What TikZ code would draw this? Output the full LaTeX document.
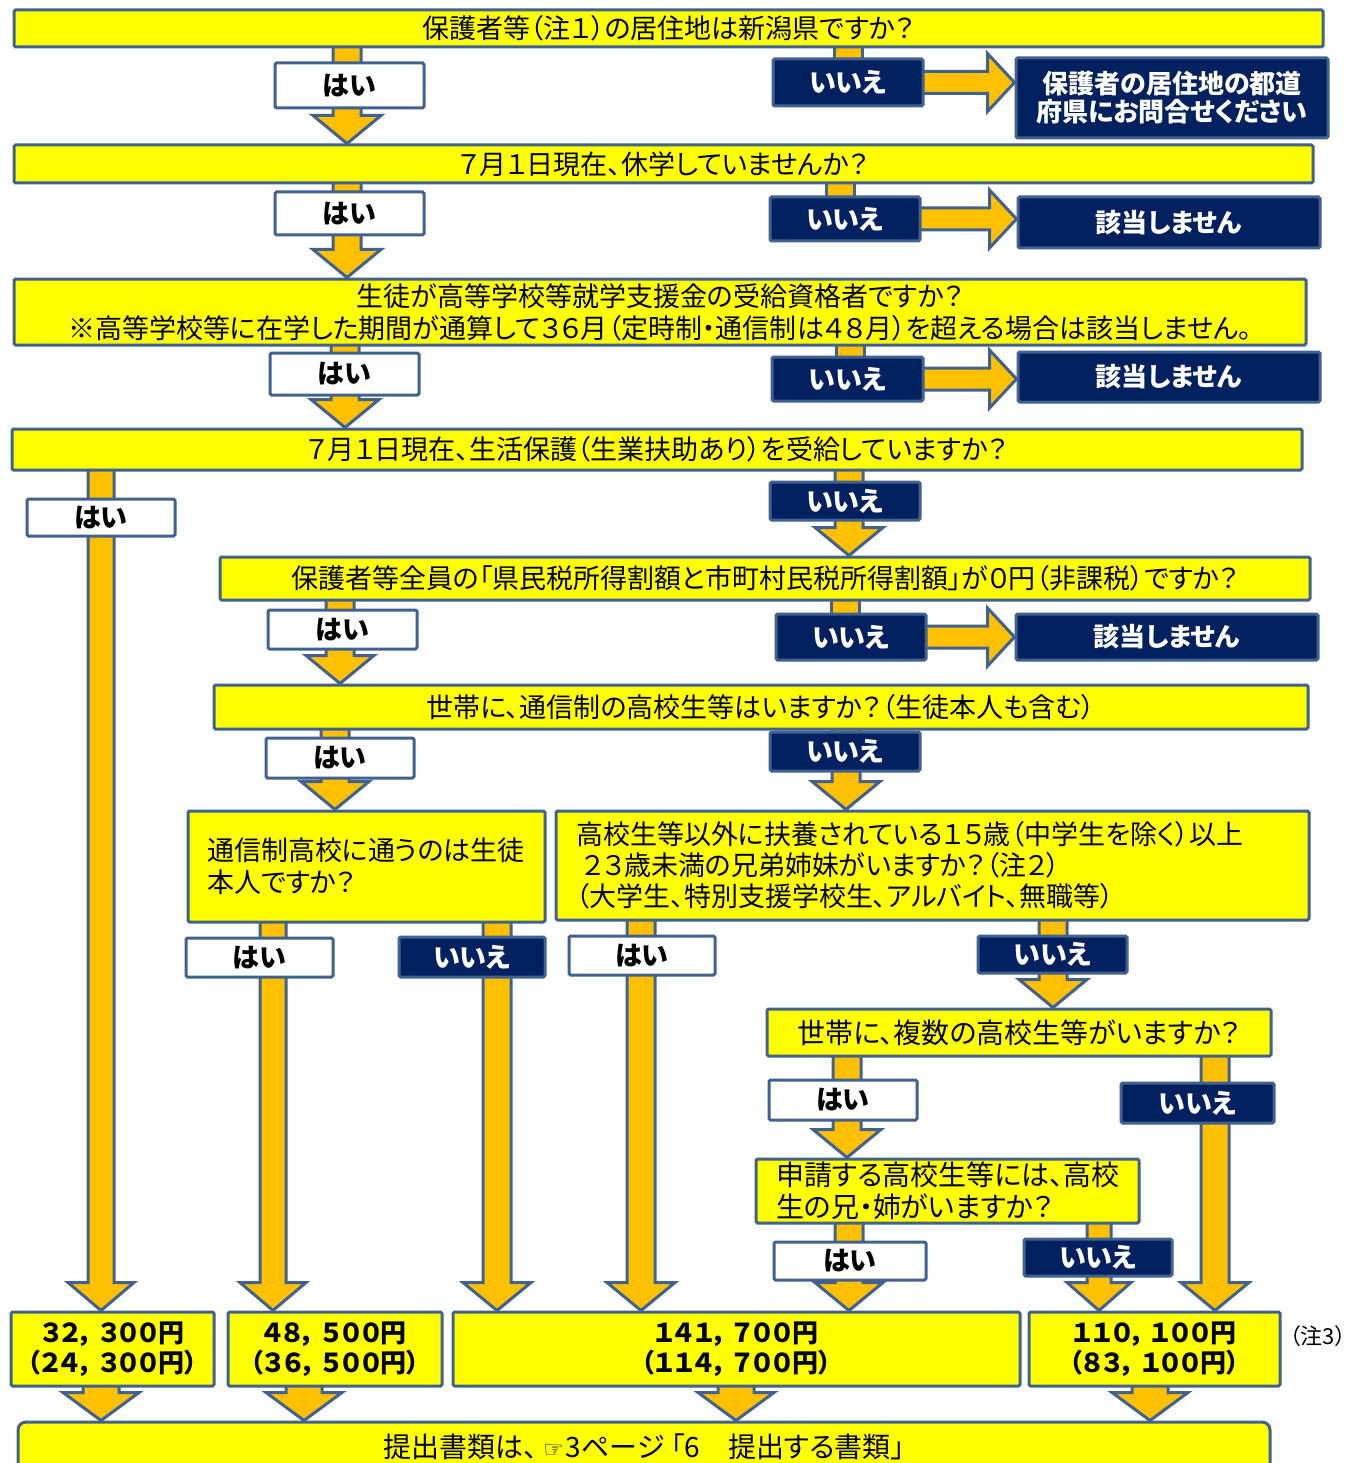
\documentclass[tikz,border=0pt]{standalone}
\usepackage{fontspec}
\setmainfont{Noto Sans CJK JP}[RawFeature=+palt]
\newfontfamily\djv{DejaVu Sans}
\usetikzlibrary{calc}
\definecolor{yel}{RGB}{255,255,0}
\definecolor{amb}{RGB}{255,192,0}
\definecolor{bd}{RGB}{65,98,143}
\definecolor{nvy}{RGB}{0,32,96}
\pgfdeclarelayer{bg}\pgfsetlayers{bg,main}
\tikzset{
 base/.style={draw=bd, line width=3pt, rounded corners=1.5pt, inner sep=0pt},
 qbox/.style={base, fill=yel, font=\fontsize{27}{32}\selectfont, align=center},
 lbox/.style={qbox, align=left},
 yesbox/.style={base, fill=white, text=black, font=\bfseries\fontsize{27}{30}\selectfont},
 nobox/.style={base, fill=nvy, text=white, font=\bfseries\fontsize{27}{30}\selectfont},
 tbox/.style={nobox, align=center, font=\bfseries\fontsize{26}{28}\selectfont},
 abox/.style={base, fill=yel, font=\bfseries\fontsize{26}{30}\selectfont, align=center},
 arrsty/.style={fill=amb, draw=bd, line width=3pt, line join=miter},
}
\newcommand\cm{，\hspace{6pt}}
\newcommand\bx[7]{\node[#1, minimum width={#4-#2}, minimum height={#5-#3}] (#6) at ({(#2+#4)/2},{(#3+#5)/2}) {#7};}
\newcommand\darr[3][14]{\filldraw[arrsty] let \p1=#2, \p2=#3 in
  (\x1-#1pt,\y1+3pt) -- (\x1-#1pt,\y2+28pt) -- (\x1-#1pt-20pt,\y2+28pt) -- (\x1,\y2)
  -- (\x1+#1pt+20pt,\y2+28pt) -- (\x1+#1pt,\y2+28pt) -- (\x1+#1pt,\y1+3pt) -- cycle;}
\newcommand\stm[2]{\filldraw[arrsty] let \p1=#1, \p2=#2 in (\x1-14pt,\y1+3pt) rectangle (\x1+14pt,\y2-3pt);}
\newcommand\rarr[2]{\filldraw[arrsty] let \p1=#1, \p2=#2 in
  (\x1-3pt,\y1+11pt) -- (\x2-27pt,\y1+11pt) -- (\x2-27pt,\y1+29pt) -- (\x2,\y1)
  -- (\x2-27pt,\y1-29pt) -- (\x2-27pt,\y1-11pt) -- (\x1-3pt,\y1-11pt) -- cycle;}
\begin{document}
\begin{tikzpicture}[x=1pt,y=-1pt]
\useasboundingbox (0,0) rectangle (1356,1463);
% row 1
\bx{qbox}{14}{10}{1323}{47}{q1}{保護者等（注１）の居住地は新潟県ですか？}
\bx{yesbox}{275}{63}{424}{108}{y1}{はい}
\bx{nobox}{773}{59}{923}{106}{n1}{いいえ}
\bx{tbox}{1016}{58}{1328}{138}{t1}{保護者の居住地の都道\\府県にお問合せください}
% row 2
\bx{qbox}{14}{145}{1313}{183}{q2}{７月１日現在、休学していませんか？}
\bx{yesbox}{275}{192}{424}{235}{y2}{はい}
\bx{nobox}{770}{197}{920}{241}{n2}{いいえ}
\bx{tbox}{1018}{197}{1320}{248}{t2}{該当しません}
% row 3
\bx{qbox}{14}{279}{1306}{345}{q3}{生徒が高等学校等就学支援金の受給資格者ですか？\\※高等学校等に在学した期間が通算して３６月（定時制・通信制は４８月）を超える場合は該当しません。}
\bx{yesbox}{270}{353}{419}{395}{y3}{はい}
\bx{nobox}{772}{357}{923}{401}{n3}{いいえ}
\bx{tbox}{1018}{352}{1320}{402}{t3}{該当しません}
% row 4
\bx{qbox}{12}{429}{1302}{470}{q4}{７月１日現在、生活保護（生業扶助あり）を受給していますか？}
\bx{yesbox}{27}{499}{175}{536}{y4}{はい}
\bx{nobox}{770}{482}{920}{520}{n4}{いいえ}
% row 5
\bx{qbox}{220}{557}{1310}{600}{q5}{保護者等全員の「県民税所得割額と市町村民税所得割額」が０円（非課税）ですか？}
\bx{yesbox}{268}{610}{417}{649}{y5}{はい}
\bx{nobox}{776}{614}{926}{660}{n5}{いいえ}
\bx{tbox}{1016}{614}{1318}{660}{t4}{該当しません}
% row 6
\bx{qbox}{214}{685}{1308}{729}{q6}{世帯に、通信制の高校生等はいますか？（生徒本人も含む）}
\bx{yesbox}{266}{738}{414}{778}{y6}{はい}
\bx{nobox}{770}{732}{920}{771}{n6}{いいえ}
% row 7
\bx{lbox,text width=319,inner xsep=19}{188}{811}{545}{922}{q7a}{通信制高校に通うのは生徒\\本人ですか？}
\bx{lbox,text width=713,inner xsep=20,font=\fontsize{27}{31}\selectfont}{556}{811}{1309}{920}{q7b}{高校生等以外に扶養されている１５歳（中学生を除く）以上\\\hspace*{7pt}２３歳未満の兄弟姉妹がいますか？（注２）\\（大学生、特別支援学校生、アルバイト、無職等）}
\bx{yesbox}{186}{938}{333}{977}{y7}{はい}
\bx{nobox}{399}{937}{545}{977}{n7}{いいえ}
\bx{yesbox}{569}{936}{715}{975}{y8}{はい}
\bx{nobox}{978}{936}{1127}{973}{n8}{いいえ}
% row 8
\bx{qbox,font=\fontsize{28}{32}\selectfont}{767}{1009}{1271}{1056}{q8}{世帯に、複数の高校生等がいますか？}
\bx{yesbox}{769}{1080}{917}{1120}{y9}{はい}
\bx{nobox}{1121}{1083}{1274}{1123}{n9}{いいえ}
\bx{lbox,text width=343,inner xsep=20,font=\fontsize{28}{32}\selectfont}{756}{1159}{1139}{1223}{q9}{申請する高校生等には、高校\\生の兄・姉がいますか？}
\bx{yesbox}{774}{1242}{926}{1280}{y10}{はい}
\bx{nobox}{1024}{1239}{1172}{1276}{n10}{いいえ}
% amounts
\bx{abox}{11}{1312}{214}{1386}{a1}{３２\cm３００円\\（２４\cm３００円）}
\bx{abox}{228}{1312}{442}{1386}{a2}{４８\cm５００円\\（３６\cm５００円）}
\bx{abox}{453}{1312}{1020}{1386}{a3}{１４１\cm７００円\\（１１４\cm７００円）}
\bx{abox}{1029}{1312}{1280}{1386}{a4}{１１０\cm１００円\\（８３\cm１００円）}
\node[font=\fontsize{22}{26}\selectfont, inner sep=0pt] (note3) at (1318,1336) {（注3）};
\node[base, fill=yel, rounded corners=8pt, minimum width=1252, minimum height=50, font=\fontsize{28}{30}\selectfont] (bot) at (644,1447) {提出書類は、\hspace{6pt}{\djv\fontsize{23}{30}\selectfont ☞}\hspace{2pt}3ページ 「6　提出する書類」};
% arrows
\begin{pgfonlayer}{bg}
\fill[white] (0,0) rectangle (1356,1463);
\darr{(q1.south -| 347,0)}{(q2.north -| 347,0)}
\stm{(q1.south -| 848,0)}{(n1.north -| 848,0)}
\rarr{(n1.east)}{(t1.west)}
\darr{(q2.south -| 347,0)}{(q3.north -| 347,0)}
\stm{(q2.south -| 840,0)}{(n2.north -| 840,0)}
\rarr{(n2.east)}{(t2.west)}
\darr{(q3.south -| 345,0)}{(q4.north -| 345,0)}
\stm{(q3.south -| 850,0)}{(n3.north -| 850,0)}
\rarr{(n3.east)}{(t3.west)}
\darr[13]{(q4.south -| 101,0)}{(a1.north -| 101,0)}
\darr{(q4.south -| 849,0)}{(q5.north -| 849,0)}
\darr{(q5.south -| 340,0)}{(q6.north -| 340,0)}
\stm{(q5.south -| 845,0)}{(n5.north -| 845,0)}
\rarr{(n5.east)}{(t4.west)}
\darr{(q6.south -| 335,0)}{(q7a.north -| 335,0)}
\darr{(q6.south -| 846,0)}{(q7b.north -| 846,0)}
\darr[13]{(q7a.south -| 273,0)}{(a2.north -| 273,0)}
\darr[14]{(q7a.south -| 497,0)}{(a3.north -| 497,0)}
\darr[14]{(q7b.south -| 641,0)}{(a3.north -| 641,0)}
\darr{(q7b.south -| 1053,0)}{(q8.north -| 1053,0)}
\darr{(q8.south -| 847,0)}{(q9.north -| 847,0)}
\darr{(q8.south -| 1215,0)}{(a4.north -| 1215,0)}
\darr{(q9.south -| 849,0)}{(a3.north -| 849,0)}
\darr[12]{(q9.south -| 1099,0)}{(a4.north -| 1099,0)}
\darr[18]{(a1.south -| 101,0)}{(bot.north -| 101,0)}
\darr[18]{(a2.south -| 304,0)}{(bot.north -| 304,0)}
\darr[18]{(a3.south -| 736,0)}{(bot.north -| 736,0)}
\darr[18]{(a4.south -| 1150,0)}{(bot.north -| 1150,0)}
\end{pgfonlayer}
\end{tikzpicture}
\end{document}
